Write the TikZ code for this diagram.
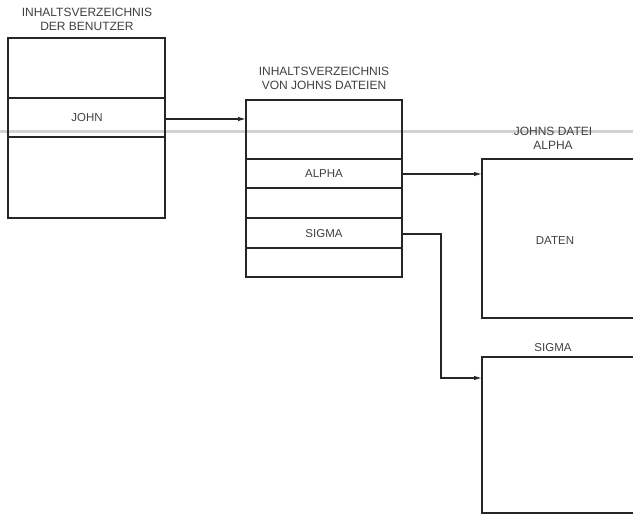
\documentclass[tikz,border=0pt]{standalone}
\usepackage{fontspec}
\setmainfont{Liberation Sans}
\usetikzlibrary{arrows.meta}
\begin{document}
\begin{tikzpicture}[x=1pt,y=-1pt,
  box/.style={draw=black!85,line width=1.3pt},
  sep/.style={draw=black!85,line width=1.2pt},
  lbl/.style={font=\fontsize{11.5}{13}\selectfont,text=black!75,inner sep=0pt},
  ttl/.style={font=\fontsize{12}{13.5}\selectfont,text=black!75,align=center,inner sep=0pt},
  conn/.style={draw=black!85,line width=1.2pt,-{Latex[length=8pt,width=4.5pt]}}]
\useasboundingbox (0,0) rectangle (633,516);
% scan fold line
\draw[gray!35,line width=3pt] (0,131.5) -- (633,131.5);
% box 1
\draw[box] (8,38) rectangle (165,218);
\draw[sep] (8,98) -- (165,98);
\draw[sep] (8,137) -- (165,137);
\node[lbl] (john) at (87,118) {JOHN};
\node[ttl] (t1) at (87,19.5) {INHALTSVERZEICHNIS\\DER BENUTZER};
% box 2
\draw[box] (246,100) rectangle (402,277);
\foreach \yy in {159,188,218,248} \draw[sep] (246,\yy) -- (402,\yy);
\node[lbl] (alpha) at (324,174) {ALPHA};
\node[lbl] (sigma) at (324,234) {SIGMA};
\node[ttl] (t2) at (324,78.5) {INHALTSVERZEICHNIS\\VON JOHNS DATEIEN};
% box 3
\draw[box] (633,159) -- (482,159) -- (482,318) -- (633,318);
\node[lbl] (daten) at (555,241) {DATEN};
\node[ttl] (t3) at (553,138.5) {JOHNS DATEI\\ALPHA};
% box 4
\draw[box] (633,357) -- (482,357) -- (482,513) -- (633,513);
\node[lbl] (t4) at (553,348) {SIGMA};
% coordinates
\coordinate (a1) at (165,119);
\coordinate (b1) at (246,119);
\coordinate (a2) at (402,174);
\coordinate (b2) at (482,174);
\coordinate (a3) at (402,234);
\coordinate (k1) at (441,234);
\coordinate (k2) at (441,378);
\coordinate (b3) at (482,378);
\draw[conn] (a1) -- (b1);
\draw[conn] (a2) -- (b2);
\draw[conn] (a3) -- (k1) -- (k2) -- (b3);
\end{tikzpicture}
\end{document}
